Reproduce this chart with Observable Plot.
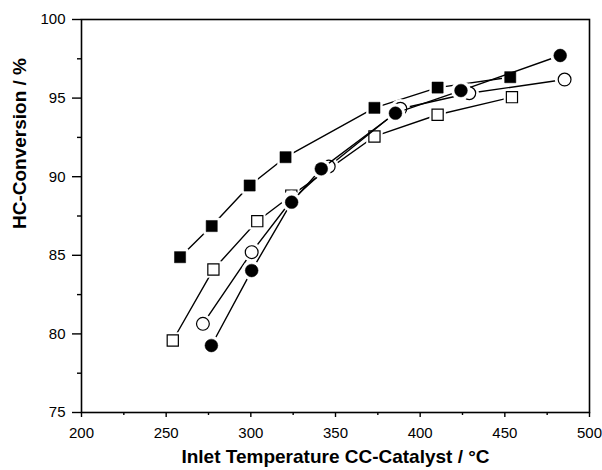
<!DOCTYPE html>
<html>
<head>
<meta charset="utf-8">
<script src="https://cdn.jsdelivr.net/npm/d3@7"></script>
<script src="https://cdn.jsdelivr.net/npm/@observablehq/plot@0.6"></script>
<style>
  html, body { margin: 0; padding: 0; background: #fff; }
</style>
</head>
<body>
<div id="chart"></div>
<script>
// Series: filled squares
const tempFilledSq = [258.2, 276.9, 299.3, 320.5, 373.0, 410.3, 453.2];
const convFilledSq = [84.88, 86.86, 89.44, 91.24, 94.38, 95.67, 96.33];
// Series: open squares
const tempOpenSq = [253.9, 277.9, 303.8, 323.9, 373.0, 410.3, 454.2];
const convOpenSq = [79.58, 84.10, 87.17, 88.80, 92.56, 93.94, 95.06];
// Series: open circles
const tempOpenCi = [271.7, 300.5, 324.0, 346.0, 388.3, 429.0, 485.3];
const convOpenCi = [80.64, 85.20, 88.50, 90.65, 94.32, 95.31, 96.18];
// Series: filled circles
const tempFilledCi = [276.7, 300.5, 324.1, 341.6, 385.4, 424.1, 482.7];
const convFilledCi = [79.26, 84.03, 88.38, 90.50, 94.04, 95.48, 97.71];

const xTicks = [200, 250, 300, 350, 400, 450, 500];
const xMinorTicks = [225, 275, 325, 375, 425, 475];
const yTicks = [75, 80, 85, 90, 95, 100];
const yMinorTicks = [77.5, 82.5, 87.5, 92.5, 97.5];

const xTitle = "Inlet Temperature CC-Catalyst / °C";
const yTitle = "HC-Conversion / %";

const toRows = (t, c) => t.map((x, i) => ({x, y: c[i]}));
const series = [
  {rows: toRows(tempFilledSq, convFilledSq), symbol: "square", filled: true},
  {rows: toRows(tempOpenSq, convOpenSq), symbol: "square", filled: false},
  {rows: toRows(tempOpenCi, convOpenCi), symbol: "circle", filled: false},
  {rows: toRows(tempFilledCi, convFilledCi), symbol: "circle", filled: true}
];

const font = "Arial, 'Liberation Sans', sans-serif";
const marks = [];
for (const s of series) {
  marks.push(Plot.line(s.rows, {x: "x", y: "y", stroke: "black", strokeWidth: 1.4}));
  marks.push(Plot.dot(s.rows, {x: "x", y: "y", symbol: s.symbol, r: s.symbol === "square" ? 9.3 : 9.8, fill: "white", stroke: "none"}));
  marks.push(Plot.dot(s.rows, {
    x: "x", y: "y", symbol: s.symbol,
    r: s.symbol === "square" ? 6.3 : 6.4,
    fill: s.filled ? "black" : "white",
    stroke: "black", strokeWidth: s.filled ? 0.5 : 1.2
  }));
}

const chart = Plot.plot({
  width: 602,
  height: 470,
  marginLeft: 81,
  marginRight: 13,
  marginTop: 19,
  marginBottom: 58,
  style: {fontFamily: font, background: "white", color: "black"},
  x: {domain: [200, 500]},
  y: {domain: [75, 100]},
  marks: [
    Plot.axisX({ticks: xTicks, tickSize: 5, strokeWidth: 1.4, text: null, label: null}),
    Plot.axisX({ticks: xMinorTicks, tickSize: 3, strokeWidth: 1.4, text: null, label: null}),
    Plot.axisY({ticks: yTicks, tickSize: 9, strokeWidth: 1.4, text: null, label: null}),
    Plot.axisY({ticks: yMinorTicks, tickSize: 4, strokeWidth: 1.4, text: null, label: null}),
    Plot.text(xTicks, {x: d => d, frameAnchor: "bottom", lineAnchor: "top", dy: 15, text: d => String(d), fontSize: 15}),
    Plot.text(yTicks, {y: d => d, frameAnchor: "left", textAnchor: "end", dx: -16, text: d => String(d), fontSize: 15}),
    ...marks,
    Plot.frame({stroke: "black", strokeWidth: 1.6}),
    Plot.text([xTitle], {frameAnchor: "bottom", dy: 50, text: d => d, fontSize: 19, fontWeight: "bold"}),
    Plot.text([yTitle], {frameAnchor: "left", dx: -61.5, dy: 13, rotate: -90, text: d => d, fontSize: 19, fontWeight: "bold"})
  ]
});
document.getElementById("chart").appendChild(chart);
</script>
</body>
</html>
